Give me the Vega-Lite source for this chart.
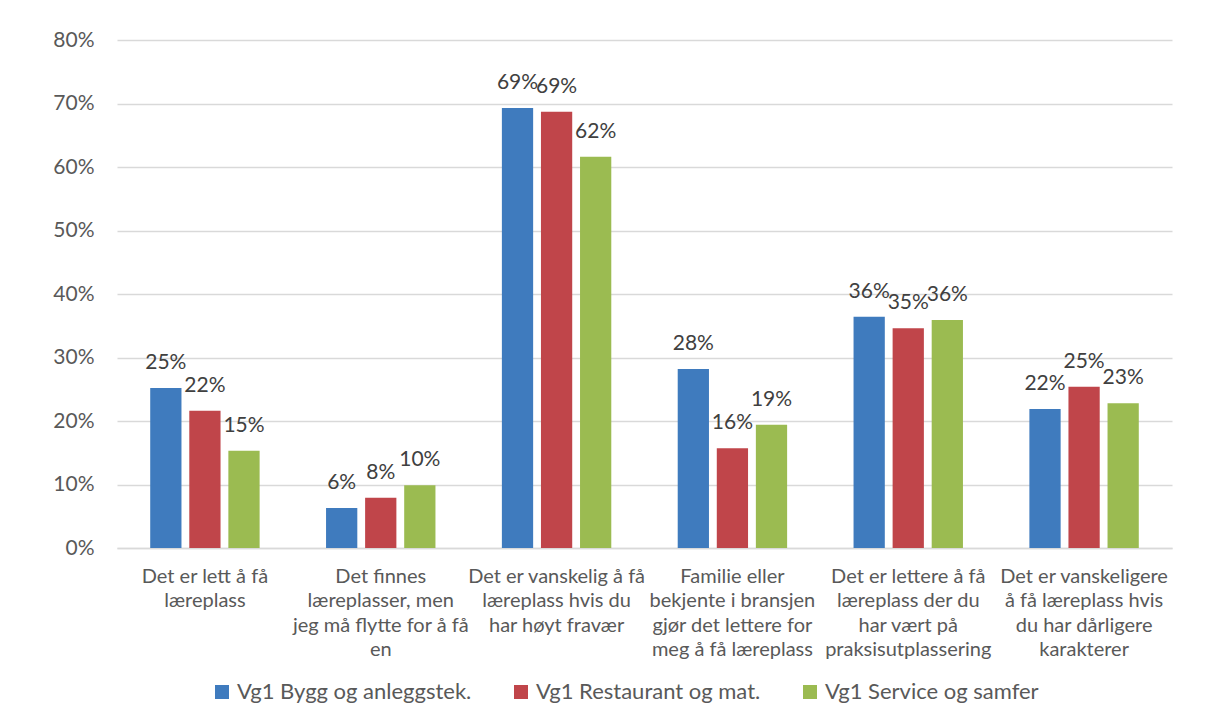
{
  "$schema": "https://vega.github.io/schema/vega-lite/v6.json",
  "width": 1055,
  "height": 508,
  "autosize": {"type": "none"},
  "padding": {"left": 117, "top": 40, "right": 56, "bottom": 175},
  "background": "white",
  "config": {
    "view": {"stroke": null},
    "font": "Lato",
    "text": {"font": "Lato"}
  },
  "data": {
    "values": [
      {"kategori": "Det er lett å få|læreplass", "gruppe": "Vg1 Bygg og anleggstek.", "andel": 0.252},
      {"kategori": "Det er lett å få|læreplass", "gruppe": "Vg1 Restaurant og mat.", "andel": 0.216},
      {"kategori": "Det er lett å få|læreplass", "gruppe": "Vg1 Service og samfer", "andel": 0.153},
      {"kategori": "Det finnes|læreplasser, men|jeg må flytte for å få|en", "gruppe": "Vg1 Bygg og anleggstek.", "andel": 0.063},
      {"kategori": "Det finnes|læreplasser, men|jeg må flytte for å få|en", "gruppe": "Vg1 Restaurant og mat.", "andel": 0.079},
      {"kategori": "Det finnes|læreplasser, men|jeg må flytte for å få|en", "gruppe": "Vg1 Service og samfer", "andel": 0.099},
      {"kategori": "Det er vanskelig å få|læreplass hvis du|har høyt fravær", "gruppe": "Vg1 Bygg og anleggstek.", "andel": 0.693},
      {"kategori": "Det er vanskelig å få|læreplass hvis du|har høyt fravær", "gruppe": "Vg1 Restaurant og mat.", "andel": 0.687},
      {"kategori": "Det er vanskelig å få|læreplass hvis du|har høyt fravær", "gruppe": "Vg1 Service og samfer", "andel": 0.616},
      {"kategori": "Familie eller|bekjente i bransjen|gjør det lettere for|meg å få læreplass", "gruppe": "Vg1 Bygg og anleggstek.", "andel": 0.282},
      {"kategori": "Familie eller|bekjente i bransjen|gjør det lettere for|meg å få læreplass", "gruppe": "Vg1 Restaurant og mat.", "andel": 0.157},
      {"kategori": "Familie eller|bekjente i bransjen|gjør det lettere for|meg å få læreplass", "gruppe": "Vg1 Service og samfer", "andel": 0.194},
      {"kategori": "Det er lettere å få|læreplass der du|har vært på|praksisutplassering", "gruppe": "Vg1 Bygg og anleggstek.", "andel": 0.364},
      {"kategori": "Det er lettere å få|læreplass der du|har vært på|praksisutplassering", "gruppe": "Vg1 Restaurant og mat.", "andel": 0.346},
      {"kategori": "Det er lettere å få|læreplass der du|har vært på|praksisutplassering", "gruppe": "Vg1 Service og samfer", "andel": 0.359},
      {"kategori": "Det er vanskeligere|å få læreplass hvis|du har dårligere|karakterer", "gruppe": "Vg1 Bygg og anleggstek.", "andel": 0.219},
      {"kategori": "Det er vanskeligere|å få læreplass hvis|du har dårligere|karakterer", "gruppe": "Vg1 Restaurant og mat.", "andel": 0.254},
      {"kategori": "Det er vanskeligere|å få læreplass hvis|du har dårligere|karakterer", "gruppe": "Vg1 Service og samfer", "andel": 0.228}
    ]
  },
  "encoding": {
    "x": {
      "field": "kategori",
      "type": "nominal",
      "sort": null,
      "scale": {"paddingInner": 0, "paddingOuter": 0},
      "axis": {
        "title": null,
        "labelAngle": 0,
        "labelExpr": "split(datum.label, '|')",
        "labelFont": "Lato",
        "labelFontSize": 20,
        "labelColor": "#595959",
        "labelLineHeight": 24.5,
        "labelLimit": 0,
        "labelPadding": 18,
        "ticks": false,
        "domainColor": "#D9D9D9",
        "domainWidth": 1.5
      }
    },
    "xOffset": {
      "field": "gruppe",
      "type": "nominal",
      "sort": null,
      "scale": {"paddingInner": 0.2, "paddingOuter": 0.85}
    },
    "y": {
      "field": "andel",
      "type": "quantitative",
      "scale": {"domain": [0, 0.8], "nice": false},
      "axis": {
        "title": null,
        "format": ".0%",
        "values": [0, 0.1, 0.2, 0.3, 0.4, 0.5, 0.6, 0.7, 0.8],
        "labelFont": "Lato",
        "labelFontSize": 21,
        "labelColor": "#595959",
        "labelPadding": 23,
        "ticks": false,
        "domain": false,
        "grid": true,
        "gridColor": "#D9D9D9",
        "gridWidth": 1.5
      }
    }
  },
  "layer": [
    {
      "mark": {"type": "bar"},
      "encoding": {
        "color": {
          "field": "gruppe",
          "type": "nominal",
          "sort": null,
          "scale": {
            "domain": ["Vg1 Bygg og anleggstek.", "Vg1 Restaurant og mat.", "Vg1 Service og samfer"],
            "range": ["#3F7BBE", "#C0454A", "#9BBB51"]
          },
          "legend": {
            "title": null,
            "orient": "none",
            "legendX": 94,
            "legendY": 641,
            "direction": "horizontal",
            "symbolType": "square",
            "symbolSize": 196,
            "symbolStrokeWidth": 0,
            "labelFont": "Lato",
            "labelFontSize": 22,
            "labelColor": "#595959",
            "labelOffset": 4,
            "labelLimit": 0,
            "columnPadding": 38
          }
        }
      }
    },
    {
      "mark": {"type": "text", "baseline": "alphabetic", "dy": -19, "fontSize": 21, "color": "#404040", "font": "Lato"},
      "encoding": {
        "text": {"field": "andel", "type": "quantitative", "format": ".0%"}
      }
    }
  ]
}
